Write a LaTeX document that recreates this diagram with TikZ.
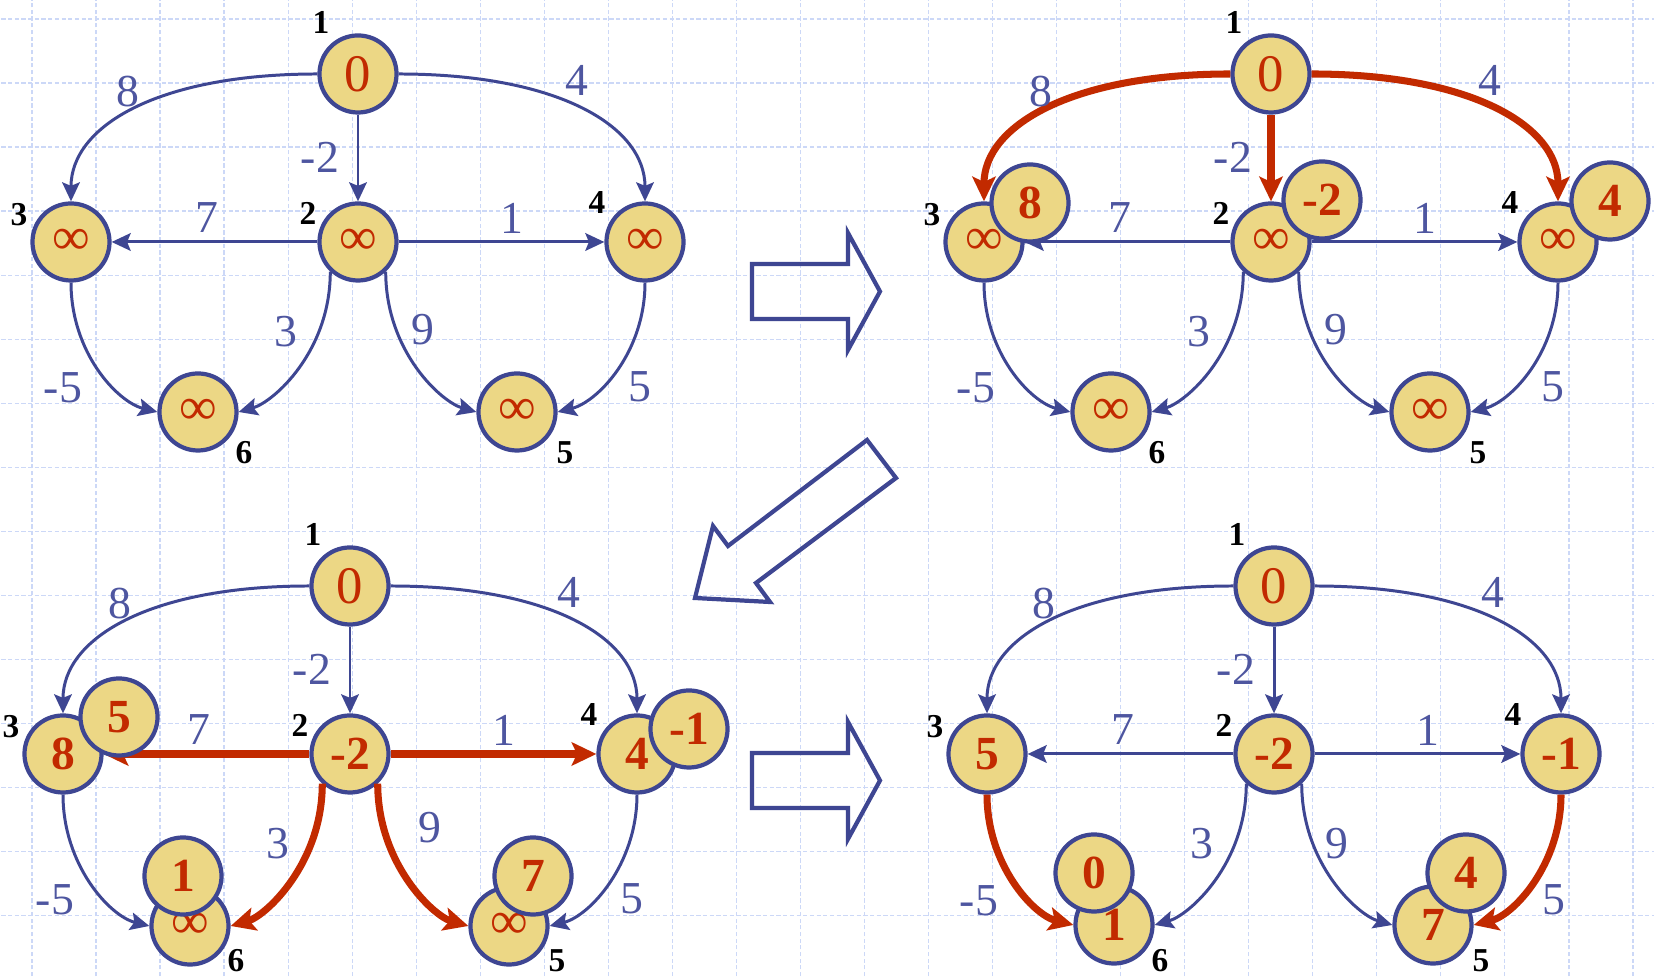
\documentclass[tikz,border=0pt]{standalone}
\usepackage{fontspec}
\setmainfont{Liberation Serif}
\usetikzlibrary{arrows.meta}

\definecolor{nodegold}{RGB}{236,215,133}
\definecolor{inkblue}{RGB}{62,70,146}
\definecolor{hotred}{RGB}{194,42,0}
\definecolor{labblue}{RGB}{78,86,160}
\definecolor{gridblue}{RGB}{204,216,247}

\tikzset{
  vtx/.style={circle, draw=inkblue, line width=1.2pt, fill=nodegold, minimum size=0.77cm, inner sep=0pt, text=hotred, font=\fontsize{15}{15}\selectfont},
  strong/.style={font=\fontsize{13.5}{13.5}\selectfont\bfseries},
  num/.style={inner sep=0pt, font=\fontsize{9.5}{9.5}\selectfont\bfseries},
  wlab/.style={inner sep=0pt, text=labblue, font=\fontsize{13}{13}\selectfont},
  link/.style={draw=inkblue, line width=0.85pt, -{Stealth[length=5.4pt, width=5pt, inset=1pt]}},
  hotlink/.style={draw=hotred, line width=2pt, -{Stealth[length=7pt, width=6.6pt, inset=1.5pt]}},
  blockarrow/.style={draw=inkblue, line width=1.2pt, line join=miter},
  gridline/.style={draw=gridblue, line width=0.35pt, dash pattern=on 1.2pt off 0.7pt},
}

\begin{document}
\begin{tikzpicture}[x=0.01cm, y=0.01cm]
\useasboundingbox[fill=white] (0,0) rectangle (1654,-977);
\begin{scope}
\clip (0,0) rectangle (1654,-977);
\draw[gridline, shift={(32,-19)}, step=0.64cm] (-64,-1024) grid (1664,64);
\end{scope}

% block arrows between the steps
\draw[blockarrow] (752,-264) -- (848,-264) -- (848,-233) -- (880,-291.5) -- (848,-350) -- (848,-319) -- (752,-319) -- cycle;
\draw[blockarrow] (867,-440) -- (896,-478) -- (756,-583) -- (770,-602) -- (695,-598) -- (713,-526) -- (728,-546) -- cycle;
\draw[blockarrow] (752,-753) -- (848,-753) -- (848,-722) -- (880,-780.5) -- (848,-839) -- (848,-808) -- (752,-808) -- cycle;

% step 0: all infinite
\begin{scope}
\node[vtx] (a1) at (358,-74) {0};
\node[vtx] (a2) at (358,-242) {∞};
\node[vtx] (a3) at (71,-242) {∞};
\node[vtx] (a4) at (645,-242) {∞};
\node[vtx] (a5) at (517,-412) {∞};
\node[vtx] (a6) at (198,-412) {∞};
\node[num] (a1n) at (321,-22) {1};
\node[num] (a2n) at (308,-213) {2};
\node[num] (a3n) at (19,-215) {3};
\node[num] (a4n) at (597,-203) {4};
\node[num] (a5n) at (565,-453) {5};
\node[num] (a6n) at (244,-453) {6};
\draw[link] (a1.west) .. controls +(-160,0) and +(0,75) .. (a3.north);
\draw[link] (a1.east) .. controls +(160,0) and +(0,75) .. (a4.north);
\draw[link] (a1) -- (a2);
\draw[link] (a2) -- (a3);
\draw[link] (a2) -- (a4);
\draw[link] (a2.227) .. controls +(0,-80) and +(35,10) .. (a6.east);
\draw[link] (a2.313) .. controls +(0,-80) and +(-35,10) .. (a5.west);
\draw[link] (a3.south) .. controls +(0,-70) and +(-40,10) .. (a6.west);
\draw[link] (a4.south) .. controls +(0,-70) and +(40,10) .. (a5.east);
\node[wlab] (a13w) at (128,-92) {8};
\node[wlab] (a14w) at (577,-80) {4};
\node[wlab] (a12w) at (320,-157) {-2};
\node[wlab] (a23w) at (207,-218) {7};
\node[wlab] (a24w) at (512,-218) {1};
\node[wlab] (a26w) at (286,-332) {3};
\node[wlab] (a25w) at (423,-330) {9};
\node[wlab] (a36w) at (63,-388) {-5};
\node[wlab] (a45w) at (640,-387) {5};
\end{scope}

% step 1: relax edges out of 1
\begin{scope}[shift={(913,0)}]
\node[vtx] (b1) at (358,-74) {0};
\node[vtx] (b2) at (358,-242) {∞};
\node[vtx] (b3) at (71,-242) {∞};
\node[vtx] (b4) at (645,-242) {∞};
\node[vtx] (b5) at (517,-412) {∞};
\node[vtx] (b6) at (198,-412) {∞};
\node[num] (b1n) at (321,-22) {1};
\node[num] (b2n) at (308,-213) {2};
\node[num] (b3n) at (19,-215) {3};
\node[num] (b4n) at (597,-203) {4};
\node[num] (b5n) at (565,-453) {5};
\node[num] (b6n) at (244,-453) {6};
\draw[hotlink] (b1.west) .. controls +(-160,0) and +(0,75) .. (b3.north);
\draw[hotlink] (b1.east) .. controls +(160,0) and +(0,75) .. (b4.north);
\draw[hotlink] (b1) -- (b2);
\draw[link] (b2) -- (b3);
\draw[link] (b2) -- (b4);
\draw[link] (b2.227) .. controls +(0,-80) and +(35,10) .. (b6.east);
\draw[link] (b2.313) .. controls +(0,-80) and +(-35,10) .. (b5.west);
\draw[link] (b3.south) .. controls +(0,-70) and +(-40,10) .. (b6.west);
\draw[link] (b4.south) .. controls +(0,-70) and +(40,10) .. (b5.east);
\node[wlab] (b13w) at (128,-92) {8};
\node[wlab] (b14w) at (577,-80) {4};
\node[wlab] (b12w) at (320,-157) {-2};
\node[wlab] (b23w) at (207,-218) {7};
\node[wlab] (b24w) at (512,-218) {1};
\node[wlab] (b26w) at (286,-332) {3};
\node[wlab] (b25w) at (423,-330) {9};
\node[wlab] (b36w) at (63,-388) {-5};
\node[wlab] (b45w) at (640,-387) {5};
\node[vtx, strong] (b3new) at (117,-203) {8};
\node[vtx, strong] (b2new) at (409,-200) {-2};
\node[vtx, strong] (b4new) at (697,-201) {4};
\end{scope}

% step 2: relax edges out of 2
\begin{scope}[shift={(-8,-512)}]
\node[vtx] (c1) at (358,-74) {0};
\node[vtx, strong] (c2) at (358,-242) {-2};
\node[vtx, strong] (c3) at (71,-242) {8};
\node[vtx, strong] (c4) at (645,-242) {4};
\node[vtx] (c5) at (517,-414) {∞};
\node[vtx] (c6) at (198,-414) {∞};
\node[num] (c1n) at (321,-22) {1};
\node[num] (c2n) at (308,-213) {2};
\node[num] (c3n) at (19,-215) {3};
\node[num] (c4n) at (597,-203) {4};
\node[num] (c5n) at (565,-449) {5};
\node[num] (c6n) at (244,-449) {6};
\draw[link] (c1.west) .. controls +(-160,0) and +(0,75) .. (c3.north);
\draw[link] (c1.east) .. controls +(160,0) and +(0,75) .. (c4.north);
\draw[link] (c1) -- (c2);
\draw[hotlink] (c2) -- (c3);
\draw[hotlink] (c2) -- (c4);
\draw[hotlink] (c2.227) .. controls +(0,-80) and +(35,10) .. (c6.east);
\draw[hotlink] (c2.313) .. controls +(0,-80) and +(-35,10) .. (c5.west);
\draw[link] (c3.south) .. controls +(0,-70) and +(-40,10) .. (c6.west);
\draw[link] (c4.south) .. controls +(0,-70) and +(40,10) .. (c5.east);
\node[wlab] (c13w) at (128,-92) {8};
\node[wlab] (c14w) at (577,-80) {4};
\node[wlab] (c12w) at (320,-157) {-2};
\node[wlab] (c23w) at (207,-218) {7};
\node[wlab] (c24w) at (512,-218) {1};
\node[wlab] (c26w) at (286,-332) {3};
\node[wlab] (c25w) at (438,-316) {9};
\node[wlab] (c36w) at (63,-388) {-5};
\node[wlab] (c45w) at (640,-387) {5};
\node[vtx, strong] (c3new) at (127,-205) {5};
\node[vtx, strong] (c4new) at (697,-217) {-1};
\node[vtx, strong] (c6new) at (191,-364) {1};
\node[vtx, strong] (c5new) at (541,-364) {7};
\end{scope}

% step 3: relax edges into 6 and 5
\begin{scope}[shift={(916,-512)}]
\node[vtx] (d1) at (358,-74) {0};
\node[vtx, strong] (d2) at (358,-242) {-2};
\node[vtx, strong] (d3) at (71,-242) {5};
\node[vtx, strong] (d4) at (645,-242) {-1};
\node[vtx, strong] (d5) at (517,-413) {7};
\node[vtx, strong] (d6) at (198,-413) {1};
\node[num] (d1n) at (321,-22) {1};
\node[num] (d2n) at (308,-213) {2};
\node[num] (d3n) at (19,-215) {3};
\node[num] (d4n) at (597,-203) {4};
\node[num] (d5n) at (565,-449) {5};
\node[num] (d6n) at (244,-449) {6};
\draw[link] (d1.west) .. controls +(-160,0) and +(0,75) .. (d3.north);
\draw[link] (d1.east) .. controls +(160,0) and +(0,75) .. (d4.north);
\draw[link] (d1) -- (d2);
\draw[link] (d2) -- (d3);
\draw[link] (d2) -- (d4);
\draw[link] (d2.227) .. controls +(0,-80) and +(35,10) .. (d6.east);
\draw[link] (d2.313) .. controls +(0,-80) and +(-35,10) .. (d5.west);
\draw[hotlink] (d3.south) .. controls +(0,-70) and +(-40,10) .. (d6.west);
\draw[hotlink] (d4.south) .. controls +(0,-70) and +(40,10) .. (d5.east);
\node[wlab] (d13w) at (128,-92) {8};
\node[wlab] (d14w) at (577,-80) {4};
\node[wlab] (d12w) at (320,-157) {-2};
\node[wlab] (d23w) at (207,-218) {7};
\node[wlab] (d24w) at (512,-218) {1};
\node[wlab] (d26w) at (286,-332) {3};
\node[wlab] (d25w) at (421,-332) {9};
\node[wlab] (d36w) at (63,-389) {-5};
\node[wlab] (d45w) at (638,-388) {5};
\node[vtx, strong] (d6new) at (178,-361) {0};
\node[vtx, strong] (d5new) at (550,-361) {4};
\end{scope}
\end{tikzpicture}
\end{document}
